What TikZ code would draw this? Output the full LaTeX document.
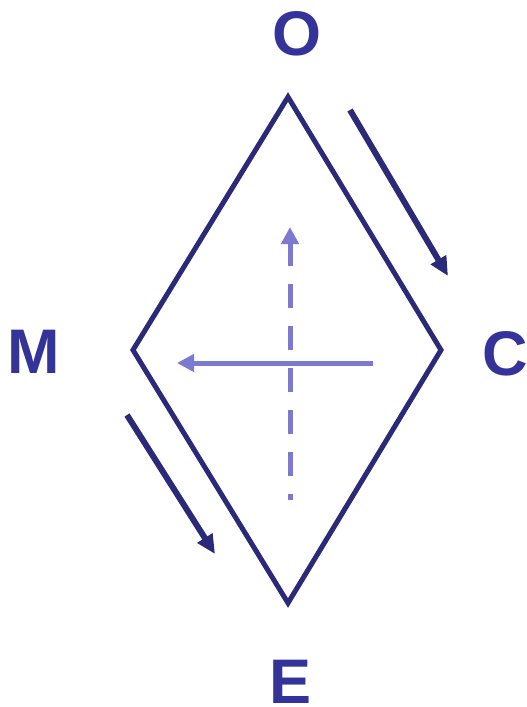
\documentclass[tikz,border=0pt]{standalone}
\usepackage{fontspec}
\setmainfont{Liberation Sans}
\usetikzlibrary{arrows.meta}
\definecolor{navy}{HTML}{2B2A78}
\definecolor{labelblue}{HTML}{333399}
\definecolor{lightblue}{HTML}{7B79D1}
\tikzset{
  lbl/.style={inner sep=0pt, text=labelblue, font=\fontsize{63}{63}\selectfont\bfseries},
  edge/.style={draw=navy, line width=5pt, line join=miter},
  darkarrow/.style={draw=navy, line width=6pt, -{Triangle[length=19pt,width=17pt]}},
  lightarrow/.style={draw=lightblue, line width=5pt, -{Triangle[length=17pt,width=17pt]}},
}
\begin{document}
\begin{tikzpicture}[x=1pt,y=-1pt]
\useasboundingbox (0,0) rectangle (527,707);
% diamond vertices
\coordinate (top) at (288,97);
\coordinate (right) at (441,350);
\coordinate (bottom) at (288,603);
\coordinate (left) at (133,350);
\draw[edge] (top) -- (right) -- (bottom) -- (left) -- cycle;
% labels
\node[lbl] (O) at (297,34) {O};
\node[lbl] (M) at (34,352) {M};
\node[lbl] (C) at (505,354) {C};
\node[lbl] (E) at (291,682) {E};
% dark arrows
\coordinate (a1s) at (350,110);
\coordinate (a1e) at (448,276);
\coordinate (a2s) at (127,415);
\coordinate (a2e) at (215,554);
\draw[darkarrow] (a1s) -- (a1e);
\draw[darkarrow] (a2s) -- (a2e);
% light arrows
\coordinate (vs) at (290,500);
\coordinate (ve) at (290,227);
\coordinate (hs) at (373,363);
\coordinate (he) at (177,363);
\draw[lightarrow, dash pattern=on 6pt off 18pt on 24pt off 18pt on 24pt off 18pt on 24pt off 18pt on 24pt off 18pt on 24pt off 18pt on 24pt] (vs) -- (ve);
\draw[lightarrow] (hs) -- (he);
\end{tikzpicture}
\end{document}
